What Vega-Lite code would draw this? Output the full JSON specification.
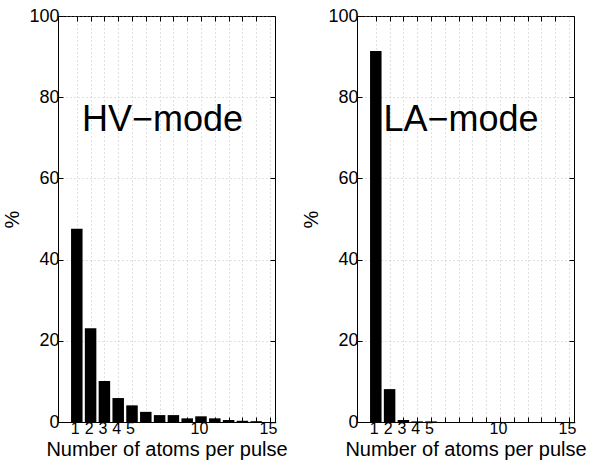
{
  "$schema": "https://vega.github.io/schema/vega-lite/v6.json",
  "padding": {"left": 2, "top": 6, "right": 5, "bottom": 0},
  "background": "white",
  "datasets": {
    "hv": [
      {"n": 1, "pct": 47.6}, {"n": 2, "pct": 23.1}, {"n": 3, "pct": 10.1}, {"n": 4, "pct": 5.9},
      {"n": 5, "pct": 4.1}, {"n": 6, "pct": 2.5}, {"n": 7, "pct": 1.7}, {"n": 8, "pct": 1.7},
      {"n": 9, "pct": 0.9}, {"n": 10, "pct": 1.4}, {"n": 11, "pct": 0.9}, {"n": 12, "pct": 0.5},
      {"n": 13, "pct": 0.3}, {"n": 14, "pct": 0.2}
    ],
    "la": [
      {"n": 1, "pct": 91.4}, {"n": 2, "pct": 8.1}, {"n": 3, "pct": 0.5}, {"n": 4, "pct": 0.15},
      {"n": 5, "pct": 0.15}
    ],
    "hvlabel": [{"label": "HV−mode"}],
    "lalabel": [{"label": "LA−mode"}]
  },
  "config": {
    "font": "Liberation Sans",
    "view": {"stroke": "black", "strokeWidth": 1},
    "axis": {
      "domainColor": "black",
      "tickColor": "black",
      "labelColor": "black",
      "titleColor": "black",
      "labelFont": "Liberation Sans",
      "titleFont": "Liberation Sans",
      "labelFontSize": 18,
      "titleFontSize": 20,
      "titleFontWeight": "normal",
      "tickSize": -5,
      "labelPadding": 4,
      "gridColor": "#999999",
      "gridDash": [1, 3],
      "gridOpacity": 0.6
    }
  },
  "spacing": 82,
  "bounds": "flush",
  "hconcat": [
    {
      "width": 217,
      "height": 406,
      "resolve": {"axis": {"x": "independent", "y": "independent"}},
      "layer": [
        {
          "data": {"name": "hv"},
          "mark": {"type": "bar", "color": "black", "size": 11.5},
          "encoding": {
            "x": {"field": "n", "type": "quantitative",
              "scale": {"domain": [0, 15], "nice": false, "zero": false},
              "axis": {"orient": "bottom", "title": "Number of atoms per pulse", "values": [1,2,3,4,5,6,7,8,9,10,11,12,13,14,15],
                "labelExpr": "indexof([1,2,3,4,5,10,15], datum.value) >= 0 ? datum.label : ''",
                "labelOffset": -2, "labelOverlap": false, "labelFontSize": 16,
                "grid": true, "titlePadding": 3, "labelPadding": 3}},
            "y": {"field": "pct", "type": "quantitative",
              "scale": {"domain": [0, 100], "nice": false},
              "axis": {"orient": "left", "title": "%", "values": [0,20,40,60,80,100], "grid": true, "titlePadding": 6}}
          }
        },
        {
          "data": {"name": "hv"},
          "mark": {"type": "bar", "opacity": 0},
          "encoding": {
            "x": {"field": "n", "type": "quantitative",
              "axis": {"orient": "top", "title": null, "labels": false, "values": [1,2,3,4,5,6,7,8,9,10,11,12,13,14], "grid": false, "domain": false}},
            "y": {"field": "pct", "type": "quantitative",
              "axis": {"orient": "right", "title": null, "labels": false, "values": [0,20,40,60,80,100], "grid": false, "domain": false}}
          }
        },
        {
          "data": {"name": "hvlabel"},
          "mark": {"type": "text", "align": "left", "baseline": "alphabetic", "fontSize": 36, "font": "Liberation Sans", "color": "black"},
          "encoding": {
            "x": {"datum": 1.38, "type": "quantitative", "axis": null},
            "y": {"datum": 71.7, "type": "quantitative", "axis": null},
            "text": {"field": "label"}
          }
        }
      ]
    },
    {
      "width": 217,
      "height": 406,
      "resolve": {"axis": {"x": "independent", "y": "independent"}},
      "layer": [
        {
          "data": {"name": "la"},
          "mark": {"type": "bar", "color": "black", "size": 11.5},
          "encoding": {
            "x": {"field": "n", "type": "quantitative",
              "scale": {"domain": [0, 15], "nice": false, "zero": false},
              "axis": {"orient": "bottom", "title": "Number of atoms per pulse", "values": [1,2,3,4,5,6,7,8,9,10,11,12,13,14,15],
                "labelExpr": "indexof([1,2,3,4,5,10,15], datum.value) >= 0 ? datum.label : ''",
                "labelOffset": -2, "labelOverlap": false, "labelFontSize": 16,
                "grid": true, "titlePadding": 3, "labelPadding": 3}},
            "y": {"field": "pct", "type": "quantitative",
              "scale": {"domain": [0, 100], "nice": false},
              "axis": {"orient": "left", "title": "%", "values": [0,20,40,60,80,100], "grid": true, "titlePadding": 6}}
          }
        },
        {
          "data": {"name": "la"},
          "mark": {"type": "bar", "opacity": 0},
          "encoding": {
            "x": {"field": "n", "type": "quantitative",
              "axis": {"orient": "top", "title": null, "labels": false, "values": [1,2,3,4,5,6,7,8,9,10,11,12,13,14], "grid": false, "domain": false}},
            "y": {"field": "pct", "type": "quantitative",
              "axis": {"orient": "right", "title": null, "labels": false, "values": [0,20,40,60,80,100], "grid": false, "domain": false}}
          }
        },
        {
          "data": {"name": "lalabel"},
          "mark": {"type": "text", "align": "left", "baseline": "alphabetic", "fontSize": 36, "font": "Liberation Sans", "color": "black"},
          "encoding": {
            "x": {"datum": 1.55, "type": "quantitative", "axis": null},
            "y": {"datum": 71.7, "type": "quantitative", "axis": null},
            "text": {"field": "label"}
          }
        }
      ]
    }
  ]
}
